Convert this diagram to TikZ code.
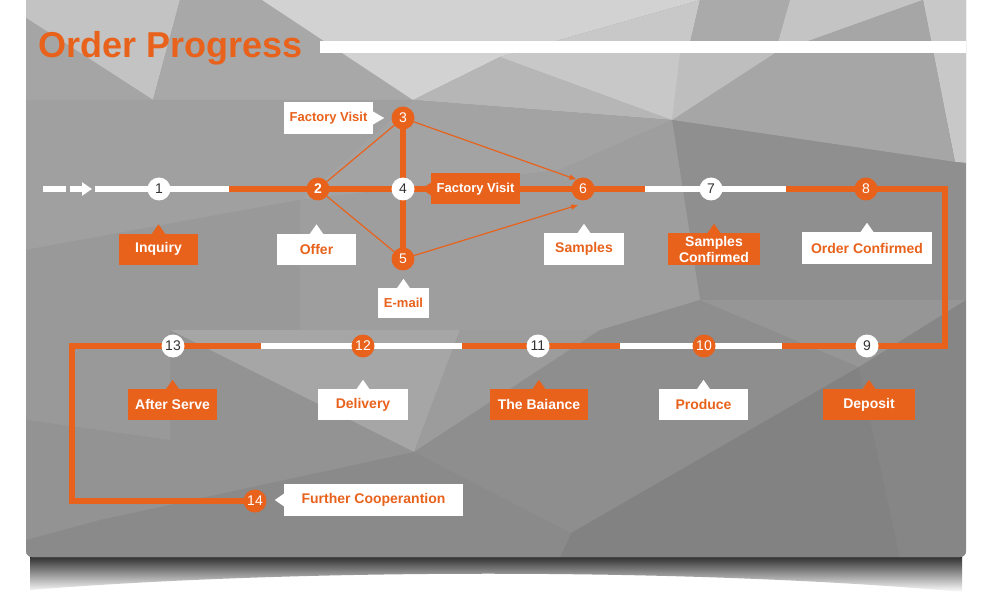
\documentclass[tikz,border=0pt]{standalone}
\usepackage{fontspec}
\setmainfont{Liberation Sans}
\usetikzlibrary{arrows.meta,backgrounds}
\definecolor{ora}{HTML}{E8621C}
\definecolor{numgray}{HTML}{333333}
\newcommand\bgpoly[2]{\fill[fill={rgb,255:red,#1;green,#1;blue,#1}] #2 -- cycle;}
\newcommand\tipup[2]{\fill[#2] ([xshift=-7pt,yshift=-1pt]#1.north) -- ([yshift=9pt]#1.north) -- ([xshift=7pt,yshift=-1pt]#1.north) -- cycle;}
\newcommand\tipright[2]{\fill[#2] ([yshift=7pt,xshift=-1pt]#1.east) -- ([xshift=11pt]#1.east) -- ([yshift=-7pt,xshift=-1pt]#1.east) -- cycle;}
\newcommand\tipleft[2]{\fill[#2] ([yshift=7pt,xshift=1pt]#1.west) -- ([xshift=-9pt]#1.west) -- ([yshift=-7pt,xshift=1pt]#1.west) -- cycle;}
\begin{document}
\begin{tikzpicture}[x=1pt,y=-1pt,
  wline/.style={white,line width=5.5pt},
  oline/.style={ora,line width=5.5pt},
  tline/.style={ora,line width=1.2pt},
  circ/.style={circle,inner sep=0pt,minimum size=23pt,font=\fontsize{14}{14}\selectfont},
  wc/.style={circ,fill=white,text=numgray},
  oc/.style={circ,fill=ora,text=white},
  lab/.style={rectangle,inner sep=0pt,minimum height=31pt,align=center,font=\bfseries\fontsize{14}{16}\selectfont},
  slab/.style={lab,font=\bfseries\fontsize{13}{15}\selectfont},
  olab/.style={fill=ora,text=white},
  wlab/.style={fill=white,text=ora},
]
\useasboundingbox (0,0) rectangle (990,604);

% ---------- background panel ----------
\begin{scope}[on background layer]
\fill[white] (0,0) rectangle (990,604);
\shade[top color=black!85, middle color=black!62, bottom color=white] (30,555) -- (962,555) -- (962,592) .. controls (700,568) and (300,568) .. (30,590) -- cycle;
\fill[fill={rgb,255:red,150;green,150;blue,150}, rounded corners=6pt] (26,-10) rectangle (966,557);
\begin{scope}
\clip[rounded corners=6pt] (26,-10) rectangle (966,557);
\bgpoly{195}{(26,0) -- (180,0) -- (153,100) -- (26,18)}
\bgpoly{165}{(26,18) -- (153,100) -- (26,100)}
\bgpoly{168}{(180,0) -- (262,0) -- (413,100) -- (153,100)}
\bgpoly{210}{(262,0) -- (700,0) -- (500,57) -- (413,100)}
\bgpoly{182}{(413,100) -- (500,57) -- (672,120)}
\bgpoly{200}{(500,57) -- (700,0) -- (672,120)}
\bgpoly{170}{(700,0) -- (790,0) -- (775,53) -- (672,120)}
\bgpoly{196}{(790,0) -- (923,0) -- (775,53)}
\bgpoly{200}{(923,0) -- (966,0) -- (966,163) -- (955,162)}
\bgpoly{166}{(775,53) -- (923,0) -- (955,162) -- (672,120)}
\bgpoly{190}{(680,53) -- (775,53) -- (672,120)}
\bgpoly{143}{(672,120) -- (955,162) -- (966,163) -- (966,300) -- (700,300)}
\bgpoly{160}{(26,100) -- (153,100) -- (413,100) -- (300,200) -- (26,250)}
\bgpoly{163}{(413,100) -- (672,120) -- (560,170) -- (300,200)}
\bgpoly{158}{(300,200) -- (560,170) -- (672,120) -- (700,300) -- (600,330) -- (300,330)}
\bgpoly{153}{(26,250) -- (300,200) -- (300,330) -- (170,440) -- (26,420)}
\bgpoly{166}{(170,330) -- (460,330) -- (414,452)}
\bgpoly{147}{(26,420) -- (170,440) -- (170,330) -- (414,452) -- (100,520) -- (26,540)}
\bgpoly{156}{(460,330) -- (600,330) -- (414,452)}
\bgpoly{142}{(414,452) -- (600,330) -- (700,300) -- (859,367) -- (571,533)}
\bgpoly{150}{(700,300) -- (966,300) -- (859,367)}
\bgpoly{134}{(859,367) -- (966,300) -- (966,557) -- (900,557)}
\bgpoly{130}{(571,533) -- (859,367) -- (900,557) -- (560,557)}
\bgpoly{138}{(26,540) -- (100,520) -- (414,452) -- (571,533) -- (560,557) -- (26,557)}
\end{scope}
\end{scope}

% ---------- title ----------
\fill[white] (320,41) rectangle (966,53);
\node[anchor=base west,text=ora,font=\bfseries\fontsize{36}{36}\selectfont,inner sep=0pt] (title) at (38,58) {Order Progress};

% ---------- step circles ----------
\node[wc] (n1) at (159,189) {1};
\node[oc,font=\bfseries\fontsize{14}{14}\selectfont] (n2) at (318,189) {2};
\node[oc] (n3) at (403,118) {3};
\node[wc] (n4) at (403,189) {4};
\node[oc] (n5) at (403,259) {5};
\node[oc] (n6) at (583,189) {6};
\node[wc] (n7) at (711,189) {7};
\node[oc] (n8) at (866,189) {8};
\node[wc] (n9) at (867,346) {9};
\node[oc] (n10) at (704,346) {10};
\node[wc] (n11) at (538,346) {11};
\node[oc] (n12) at (363,346) {12};
\node[wc] (n13) at (173,346) {13};
\node[oc] (n14) at (255,501) {14};

% ---------- labels ----------
\node[lab,olab,minimum width=79pt] (inq) at (158.5,249) {Inquiry};
\node[lab,wlab,minimum width=79pt] (off) at (316.5,249) {Offer};
\node[slab,wlab,minimum width=89pt,minimum height=32pt] (fv1) at (328.5,118) {Factory Visit};
\node[slab,olab,minimum width=89pt] (fv2) at (475.5,189) {Factory Visit};
\node[slab,wlab,minimum width=51pt,minimum height=30pt] (eml) at (403.5,303) {E-mail};
\node[lab,wlab,minimum width=80pt,minimum height=32pt] (smp) at (584,249) {Samples};
\node[lab,olab,minimum width=92pt,minimum height=32pt] (smc) at (714,249) {Samples\\Confirmed};
\node[lab,wlab,minimum width=130pt,minimum height=32pt] (ocf) at (867,248) {Order Confirmed};
\node[lab,olab,minimum width=92pt] (dep) at (869,404.5) {Deposit};
\node[lab,olab,minimum width=89pt] (aft) at (172.5,404.5) {After Serve};
\node[lab,wlab,minimum width=90pt] (del) at (363,404.5) {Delivery};
\node[lab,olab,minimum width=98pt] (bai) at (539,404.5) {The Baiance};
\node[lab,wlab,minimum width=89pt] (pro) at (703.5,404.5) {Produce};
\node[lab,wlab,minimum width=179pt,minimum height=32pt] (fur) at (373.5,500) {Further Cooperantion};

\tipup{inq}{ora}
\tipup{off}{white}
\tipright{fv1}{white}
\tipleft{fv2}{ora}
\tipup{eml}{white}
\tipup{smp}{white}
\tipup{smc}{ora}
\tipup{ocf}{white}
\tipup{dep}{ora}
\tipup{aft}{ora}
\tipup{del}{white}
\tipup{bai}{ora}
\tipup{pro}{white}
\tipleft{fur}{white}

% ---------- connectors ----------
\coordinate (d0) at (43,189);
\coordinate (d1) at (66,189);
\coordinate (d2) at (70,189);
\coordinate (d3) at (92,189);
\coordinate (w0) at (95,189);
\coordinate (o0) at (229,189);
\coordinate (o1) at (645,189);
\coordinate (w1) at (786,189);
\coordinate (cR1) at (945,189);
\coordinate (cR2) at (945,346);
\coordinate (o2) at (782,346);
\coordinate (o3) at (620,346);
\coordinate (o4) at (462,346);
\coordinate (o5) at (261,346);
\coordinate (cL1) at (72,346);
\coordinate (cL2) at (72,501);

\begin{scope}[on background layer]
\draw[wline] (d0) -- (d1);
\draw[wline,-{Triangle[length=10pt,width=13pt]}] (d2) -- (d3);
\draw[wline] (w0) -- (n1.center) -- (o0);
\draw[oline] (o0) -- (n2.center) -- (n4.center) -- (n6.center) -- (o1);
\draw[wline] (o1) -- (n7.center) -- (w1);
\draw[oline] (w1) -- (n8.center) -- (cR1) -- (cR2) -- (n9.center) -- (o2);
\draw[wline] (o2) -- (n10.center) -- (o3);
\draw[oline] (o3) -- (n11.center) -- (o4);
\draw[wline] (o4) -- (n12.center) -- (o5);
\draw[oline] (o5) -- (n13.center) -- (cL1) -- (cL2) -- (n14.center);
\draw[oline] (n3.center) -- (n5.center);
\draw[tline] (n2) -- (n3);
\draw[tline] (n2) -- (n5);
\draw[tline,-{Triangle[length=7pt,width=5pt]}] (n3) -- (n6.125);
\draw[tline,-{Triangle[length=7pt,width=5pt]}] (n5) -- ([shift={(-5pt,-16pt)}]n6.center);
\end{scope}
\end{tikzpicture}
\end{document}
